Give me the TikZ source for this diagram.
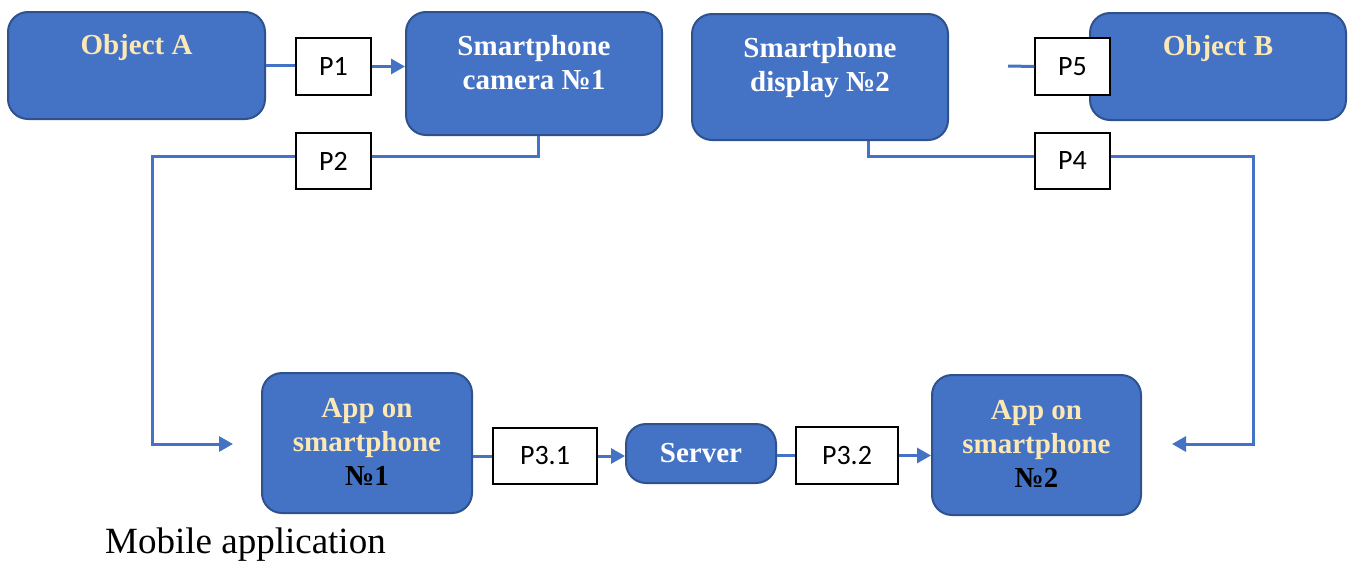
\documentclass[tikz,border=0pt]{standalone}
\usepackage{fontspec}
\setmainfont{Liberation Serif}
\newfontfamily\calibri{Carlito}
\usetikzlibrary{arrows.meta,positioning,calc}
\definecolor{officeblue}{HTML}{4472C4}
\definecolor{officeedge}{HTML}{2F528F}
\definecolor{cream}{HTML}{FCE8B4}

\tikzset{
  blockbox/.style={draw=officeedge, line width=2pt, fill=officeblue, rounded corners=20pt, inner sep=0pt},
  labelbox/.style={draw=black, line width=1.2pt, fill=white, inner sep=0pt, font=\calibri\fontsize{28}{34}\selectfont},
  link/.style={draw=officeblue, line width=3pt},
  arrowhd/.style={-{Triangle[length=14pt,width=15pt]}},
  boxfont/.style={font=\bfseries\fontsize{29}{34}\selectfont},
  boxtext/.style={boxfont, align=center, inner sep=0pt, text=white, anchor=base},
}

\begin{document}
\begin{tikzpicture}[x=1pt, y=-1pt]
\useasboundingbox (0,0) rectangle (1354,560);

% top row
\node[blockbox, minimum width=257pt, minimum height=107pt] (objA) at (136.5,65.5) {};
\node[blockbox, minimum width=256pt, minimum height=123pt] (cam1) at (534,73.5) {};
\node[blockbox, minimum width=256pt, minimum height=126pt] (disp2) at (820,77) {};
\node[blockbox, minimum width=256pt, minimum height=107pt] (objB) at (1218,66.5) {};

% base = last line
\node[boxtext, text=cream] (objAtext) at ([yshift=-43pt]objA.north) {Object A};
\node[boxtext] (cam1text) at ([yshift=-78pt]cam1.north) {Smartphone\\camera №1};
\node[boxtext] (disp2text) at ([yshift=-78pt]disp2.north) {Smartphone\\display №2};
\node[boxtext, text=cream] (objBtext) at ([yshift=-43pt]objB.north) {Object B};

% bottom row
\node[blockbox, minimum width=210pt, minimum height=140pt] (app1) at (367,443) {};
\node[blockbox, boxfont, text=white, minimum width=150pt, minimum height=59pt] (server) at (701,453.5) {Server};
\node[blockbox, minimum width=209pt, minimum height=140pt] (app2) at (1036.5,445) {};

\node[boxtext, text=cream] (app1text) at ([yshift=-113pt]app1.north) {App on\\smartphone\\\textcolor{black}{№1}};
\node[boxtext, text=cream] (app2text) at ([yshift=-113pt]app2.north) {App on\\smartphone\\\textcolor{black}{№2}};

% labels
\node[labelbox, minimum width=75pt, minimum height=57pt] (p1) at (333.5,66.5) {P1};
\node[labelbox, minimum width=75pt, minimum height=56pt] (p2) at (333.5,161) {P2};
\node[labelbox, minimum width=104pt, minimum height=56pt] (p31) at (545,456) {P3.1};
\node[labelbox, minimum width=102pt, minimum height=57pt] (p32) at (847,455.5) {P3.2};
\node[labelbox, minimum width=75pt, minimum height=56pt] (p4) at (1072.5,161) {P4};
\node[labelbox, minimum width=75pt, minimum height=57pt] (p5) at (1072.5,66.5) {P5};

\node[anchor=base west, inner sep=0pt, font=\fontsize{37}{44}\selectfont] (caption) at (105,553) {Mobile application};

% connectors
\coordinate (row2) at (0,156);
\coordinate (lcorner) at (152,444);
\coordinate (in1) at (233,444);
\coordinate (rcorner) at (1253,444);
\coordinate (in2) at (1172,444);
\coordinate (p5in) at (1008,66);

\draw[link] (objA.east) -- (objA.east -| p1.west);
\draw[link, arrowhd] (p1.east) -- (p1.east -| cam1.west);
\draw[link] ([xshift=4pt]cam1.south) |- (p2.east |- row2);
\draw[link, arrowhd] (p2.west |- row2) -| (lcorner) -- (in1);
\draw[link] (app1.east |- p31) -- (p31.west);
\draw[link, arrowhd] (p31.east) -- (p31.east -| server.west);
\draw[link] (server.east |- p32) -- (p32.west);
\draw[link, arrowhd] (p32.east) -- (p32.east -| app2.west);
\draw[link] ([xshift=48pt]disp2.south) |- (p4.west |- row2);
\draw[link, arrowhd] (p4.east |- row2) -| (rcorner) -- (in2);
\draw[link] (p5in) -- (p5.west);
\end{tikzpicture}
\end{document}
